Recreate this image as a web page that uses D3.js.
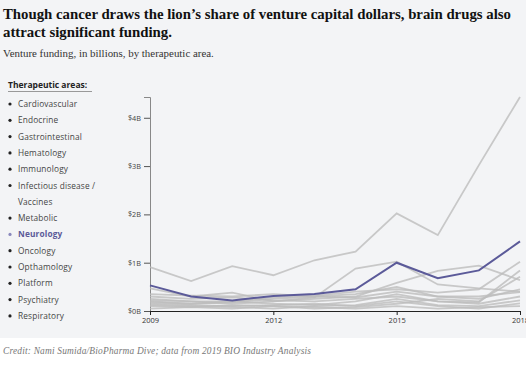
<!DOCTYPE html>
<html>
<head>
<meta charset="utf-8">
<script src="https://cdn.jsdelivr.net/npm/d3@7"></script>
<style>
  body { margin: 0; background: #fff; }
  svg { display: block; }
</style>
</head>
<body>
<div id="chart"></div>
<script>
// years on the x axis
const years = [2009, 2010, 2011, 2012, 2013, 2014, 2015, 2016, 2017, 2018];
const xTicks = [2009, 2012, 2015, 2018];
const yTicks = [0, 1, 2, 3, 4];

const categories = ["Cardiovascular", "Endocrine", "Gastrointestinal", "Hematology", "Immunology",
  "Infectious disease / Vaccines", "Metabolic", "Neurology", "Oncology", "Opthamology",
  "Platform", "Psychiatry", "Respiratory"];

// venture funding in $B
const cardiovascular = [0.30, 0.25, 0.28, 0.22, 0.20, 0.25, 0.30, 0.20, 0.15, 0.30];
const endocrine = [0.15, 0.12, 0.10, 0.12, 0.15, 0.10, 0.20, 0.10, 0.05, 0.16];
const gastrointestinal = [0.10, 0.08, 0.12, 0.10, 0.05, 0.08, 0.15, 0.25, 0.20, 0.71];
const hematology = [0.20, 0.15, 0.18, 0.25, 0.30, 0.28, 0.40, 0.30, 0.25, 0.45];
const immunology = [0.47, 0.30, 0.38, 0.20, 0.28, 0.88, 1.02, 0.55, 0.47, 0.40];
const infectious = [0.35, 0.32, 0.30, 0.35, 0.30, 0.35, 0.50, 0.30, 0.30, 0.39];
const metabolic = [0.25, 0.20, 0.15, 0.20, 0.25, 0.30, 0.58, 0.83, 0.94, 0.64];
const neurology = [0.53, 0.30, 0.22, 0.31, 0.35, 0.45, 1.00, 0.68, 0.84, 1.44];
const oncology = [0.91, 0.62, 0.93, 0.74, 1.05, 1.23, 2.02, 1.57, 3.02, 4.43];
const opthamology = [0.05, 0.08, 0.05, 0.10, 0.08, 0.05, 0.10, 0.05, 0.08, 0.10];
const platform = [0.22, 0.20, 0.20, 0.28, 0.32, 0.40, 0.45, 0.38, 0.45, 1.02];
const psychiatry = [0.12, 0.10, 0.08, 0.05, 0.10, 0.12, 0.25, 0.12, 0.10, 0.22];
const respiratory = [0.18, 0.15, 0.20, 0.15, 0.12, 0.20, 0.35, 0.20, 0.18, 0.84];

const valuesList = [cardiovascular, endocrine, gastrointestinal, hematology, immunology,
  infectious, metabolic, neurology, oncology, opthamology, platform, psychiatry, respiratory];

const highlight = "Neurology";
const series = categories.map((name, i) => ({
  name,
  values: valuesList[i].map((v, j) => ({ year: years[j], value: v }))
}));

const W = 526, H = 373;
const svg = d3.select("#chart").append("svg")
  .attr("width", W)
  .attr("height", H);

svg.append("rect").attr("width", W).attr("height", 338).attr("fill", "#f3f4f6");

// title + subtitle
const title = svg.append("text")
  .attr("font-family", "'Liberation Serif', serif")
  .attr("font-weight", "bold")
  .attr("font-size", 14.8)
  .attr("fill", "#111");
title.append("tspan").attr("x", 3).attr("y", 19)
  .text("Though cancer draws the lion’s share of venture capital dollars, brain drugs also");
title.append("tspan").attr("x", 3).attr("y", 37)
  .text("attract significant funding.");
// squeeze line 1 so it ends where the reference does
const t1 = title.select("tspan").node();
if (t1.getComputedTextLength() > 509) {
  title.select("tspan").attr("textLength", 509).attr("lengthAdjust", "spacingAndGlyphs");
}

svg.append("text")
  .attr("x", 3).attr("y", 57)
  .attr("font-family", "'Liberation Serif', serif")
  .attr("font-size", 10.9)
  .attr("fill", "#333")
  .text("Venture funding, in billions, by therapeutic area.");

// legend
const legend = svg.append("g").attr("font-family", "'Open Sans', sans-serif");
legend.append("text")
  .attr("x", 8).attr("y", 88)
  .attr("font-size", 8.5)
  .attr("font-weight", "bold")
  .attr("fill", "#222")
  .text("Therapeutic areas:");
legend.append("line")
  .attr("x1", 8).attr("x2", 92)
  .attr("y1", 91.5).attr("y2", 91.5)
  .attr("stroke", "#999");

let ly = 107;
categories.forEach(name => {
  const isHi = name === highlight;
  const parts = name === "Infectious disease / Vaccines" ? ["Infectious disease /", "Vaccines"] : [name];
  legend.append("circle")
    .attr("cx", 10).attr("cy", ly - 3)
    .attr("r", 1.6)
    .attr("fill", isHi ? "#8a89bd" : "#222");
  parts.forEach((p, k) => {
    legend.append("text")
      .attr("x", 18).attr("y", ly + k * 16)
      .attr("font-size", 8.3)
      .attr("letter-spacing", 0.15)
      .attr("font-weight", isHi ? "bold" : "normal")
      .attr("fill", isHi ? "#5b5a99" : "#444")
      .text(p);
  });
  ly += 16.3 * parts.length;
});

// chart
const x = d3.scaleLinear().domain([2009, 2018]).range([150, 520]);
const y = d3.scaleLinear().domain([0, d3.max(oncology)]).range([311, 97]);

const yAxis = svg.append("g")
  .attr("transform", "translate(150,0)")
  .call(d3.axisLeft(y).tickValues(yTicks).tickSize(6).tickFormat(d => `$${d}B`));
yAxis.select(".domain").attr("stroke", "#888");
yAxis.selectAll(".tick line").attr("stroke", "#555");
yAxis.selectAll("text")
  .attr("font-family", "'Open Sans', sans-serif")
  .attr("font-size", 7.3)
  .attr("fill", "#444");

const line = d3.line()
  .x(d => x(d.year))
  .y(d => y(d.value));

svg.append("g")
  .selectAll("path")
  .data(series.filter(s => s.name !== highlight))
  .enter()
  .append("path")
  .attr("d", d => line(d.values))
  .attr("fill", "none")
  .attr("stroke", "#bdbdbd")
  .attr("stroke-opacity", 0.8)
  .attr("stroke-width", 1.8);

svg.append("path")
  .datum(series.find(s => s.name === highlight))
  .attr("d", d => line(d.values))
  .attr("fill", "none")
  .attr("stroke", "#5b5a99")
  .attr("stroke-width", 2);

const xAxis = svg.append("g")
  .attr("transform", "translate(0,311)")
  .call(d3.axisBottom(x).tickValues(xTicks).tickSize(4).tickSizeOuter(0).tickFormat(d3.format("d")));
xAxis.select(".domain").attr("stroke", "#222").attr("stroke-width", 1.2);
xAxis.selectAll(".tick line").attr("stroke", "#222");
xAxis.selectAll("text")
  .attr("font-family", "'Open Sans', sans-serif")
  .attr("font-size", 7.5)
  .attr("fill", "#333");

// credit
svg.append("text")
  .attr("x", 3).attr("y", 354)
  .attr("font-family", "'Liberation Serif', serif")
  .attr("font-style", "italic")
  .attr("font-size", 9.4)
  .attr("fill", "#777")
  .attr("textLength", 308)
  .attr("lengthAdjust", "spacing")
  .text("Credit: Nami Sumida/BioPharma Dive; data from 2019 BIO Industry Analysis");
</script>
</body>
</html>
